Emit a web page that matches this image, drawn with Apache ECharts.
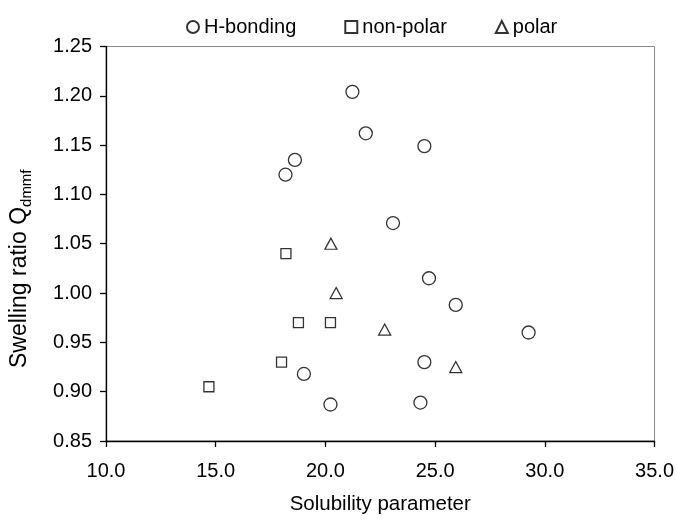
<!DOCTYPE html>
<html>
<head>
<meta charset="utf-8">
<script src="https://cdn.jsdelivr.net/npm/echarts@6/dist/echarts.min.js"></script>
<style>
  html, body { margin: 0; padding: 0; background: #fff; }
  #chart { width: 677px; height: 520px; }
</style>
</head>
<body>
<div id="chart"></div>
<script>
// [solubility parameter, swelling ratio]
const hBonding = [
  [21.23, 1.204], [21.84, 1.162], [18.61, 1.135], [18.18, 1.120],
  [23.08, 1.071], [24.51, 1.149], [24.72, 1.015], [25.94, 0.988],
  [29.26, 0.960], [24.51, 0.930], [24.33, 0.889], [19.02, 0.918],
  [20.23, 0.887]
];
const nonPolar = [
  [18.20, 1.040], [18.77, 0.970], [20.23, 0.970], [18.00, 0.930],
  [14.69, 0.905]
];
const polar = [
  [20.25, 1.050], [20.49, 1.000], [22.70, 0.963], [25.94, 0.925]
];
const seriesNames = ['H-bonding', 'non-polar', 'polar'];

const FONT = 'Liberation Sans';
const hollow = { color: '#fff', borderColor: '#000', borderWidth: 1.3 };

const chart = echarts.init(document.getElementById('chart'));
chart.setOption({
  animation: false,
  textStyle: { fontFamily: FONT },
  grid: {
    left: 106, top: 46.5, right: 22, bottom: 73,
    show: true, borderColor: '#888', borderWidth: 1, backgroundColor: '#fff'
  },
  legend: {
    left: 181, top: 12,
    itemGap: 48, itemWidth: 12, itemHeight: 12,
    textStyle: { fontFamily: FONT, fontSize: 20, color: '#000' },
    data: [
      { name: seriesNames[0], icon: 'circle' },
      { name: seriesNames[1], icon: 'rect' },
      { name: seriesNames[2], icon: 'triangle' }
    ]
  },
  xAxis: {
    type: 'value', min: 10, max: 35, interval: 5,
    name: 'Solubility parameter', nameLocation: 'middle', nameGap: 53,
    nameTextStyle: { fontSize: 20.5, color: '#000' },
    axisLine: { show: true, lineStyle: { color: '#000', width: 1.3 } },
    axisTick: { show: true, length: 6, lineStyle: { color: '#000', width: 1.3 } },
    axisLabel: { fontSize: 20, color: '#000', margin: 20, formatter: v => v.toFixed(1) },
    splitLine: { show: false }
  },
  yAxis: {
    type: 'value', min: 0.85, max: 1.25, interval: 0.05,
    name: '{a|Swelling ratio Q}{b|dmmf}', nameLocation: 'middle', nameGap: 72,
    nameTextStyle: {
      padding: [0, 50, 0, 0],
      rich: {
        a: { fontFamily: FONT, fontSize: 23, color: '#000', lineHeight: 26, verticalAlign: 'top' },
        b: { fontFamily: FONT, fontSize: 15, color: '#000', lineHeight: 26, verticalAlign: 'bottom' }
      }
    },
    axisLine: { show: true, lineStyle: { color: '#000', width: 1.3 } },
    axisTick: { show: true, length: 6, lineStyle: { color: '#000', width: 1.3 } },
    axisLabel: { fontSize: 20, color: '#000', margin: 14, formatter: v => v.toFixed(2) },
    splitLine: { show: false }
  },
  series: [
    { name: seriesNames[0], type: 'scatter', data: hBonding, symbol: 'circle', symbolSize: 13, itemStyle: hollow },
    { name: seriesNames[1], type: 'scatter', data: nonPolar, symbol: 'rect', symbolSize: 10, itemStyle: hollow },
    { name: seriesNames[2], type: 'scatter', data: polar, symbol: 'triangle', symbolSize: [12, 11], itemStyle: hollow }
  ]
});
</script>
</body>
</html>
